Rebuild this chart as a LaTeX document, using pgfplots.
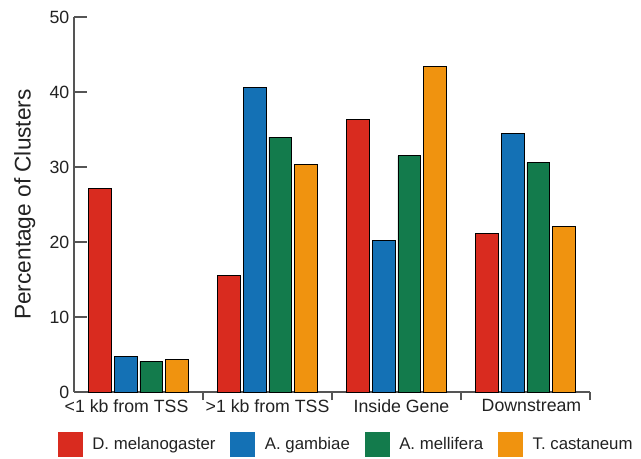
\documentclass[border=0pt]{standalone}
\usepackage{fontspec}
\setmainfont{Liberation Sans}
\usepackage{pgfplots}
\pgfplotsset{compat=1.18}
\definecolor{cred}{HTML}{D92B1F}
\definecolor{cblue}{HTML}{1471B5}
\definecolor{cgreen}{HTML}{137B4C}
\definecolor{corange}{HTML}{F0930F}
\definecolor{axgray}{HTML}{555555}
\definecolor{txt}{HTML}{222222}
\begin{document}
\begin{tikzpicture}
\path[use as bounding box] (-55.5pt,-49.5pt) rectangle (425.25pt,294pt);
\begin{axis}[
  at={(0pt,0pt)}, anchor=south west,
  scale only axis, width=387pt, height=281.25pt,
  xmin=-0.5, xmax=3.5, ymin=0, ymax=50,
  axis lines=left,
  axis line style={axgray, line width=1pt, -},
  tick style={axgray, line width=1pt},
  tick align=inside,
  major tick length=6pt,
  xtick={0.5,1.5,2.5,3.5}, xticklabels={},
  extra x ticks={0,1,2,3},
  extra x tick labels={{<1 kb from TSS\hspace*{18pt}},{>1 kb from TSS},{\hspace*{7.5pt}Inside Gene},{\hspace*{9pt}Downstream}},
  extra x tick style={major tick length=0pt},
  ytick=\empty,
  extra y ticks={0,10,20,30,40,50},
  extra y tick style={major tick length=9.75pt},
  yticklabel style={font=\fontsize{13.3}{15}\selectfont, text=txt},
  xticklabel style={font=\fontsize{13.3}{15}\selectfont, text=txt, yshift=-2pt},
  /pgf/number format/assume math mode=true,
  ylabel={\fontsize{17}{19}\selectfont Percentage of Clusters},
  ylabel style={text=txt, at={(axis description cs:0,0.5)}, anchor=south, yshift=25.5pt},
  ybar, bar width=0.178,
  legend columns=4,
  legend style={draw=none, fill=none, at={(axis description cs:0.528,-0.141)}, anchor=center,
    font=\fontsize{12.6}{14}\selectfont, text=txt,
    /tikz/every even column/.append style={column sep=9pt}},
  legend image code/.code={\path[#1, draw=none] (0pt,-9.4pt) rectangle (18.75pt,9.4pt);
     \path[draw=none, fill=none] (0pt,0pt) -- (24pt,0pt);},
  every axis plot/.append style={draw=black, line width=0.6pt},
]
\addplot[fill=cred, bar shift=-0.3] coordinates {(0,27.1) (1,15.6) (2,36.4) (3,21.1)};
\addplot[fill=cblue, bar shift=-0.1] coordinates {(0,4.8) (1,40.6) (2,20.2) (3,34.5)};
\addplot[fill=cgreen, bar shift=0.1] coordinates {(0,4.1) (1,34.0) (2,31.5) (3,30.6)};
\addplot[fill=corange, bar shift=0.3] coordinates {(0,4.3) (1,30.4) (2,43.4) (3,22.1)};
\legend{D. melanogaster, A. gambiae, A. mellifera, T. castaneum}
\end{axis}
\end{tikzpicture}
\end{document}
